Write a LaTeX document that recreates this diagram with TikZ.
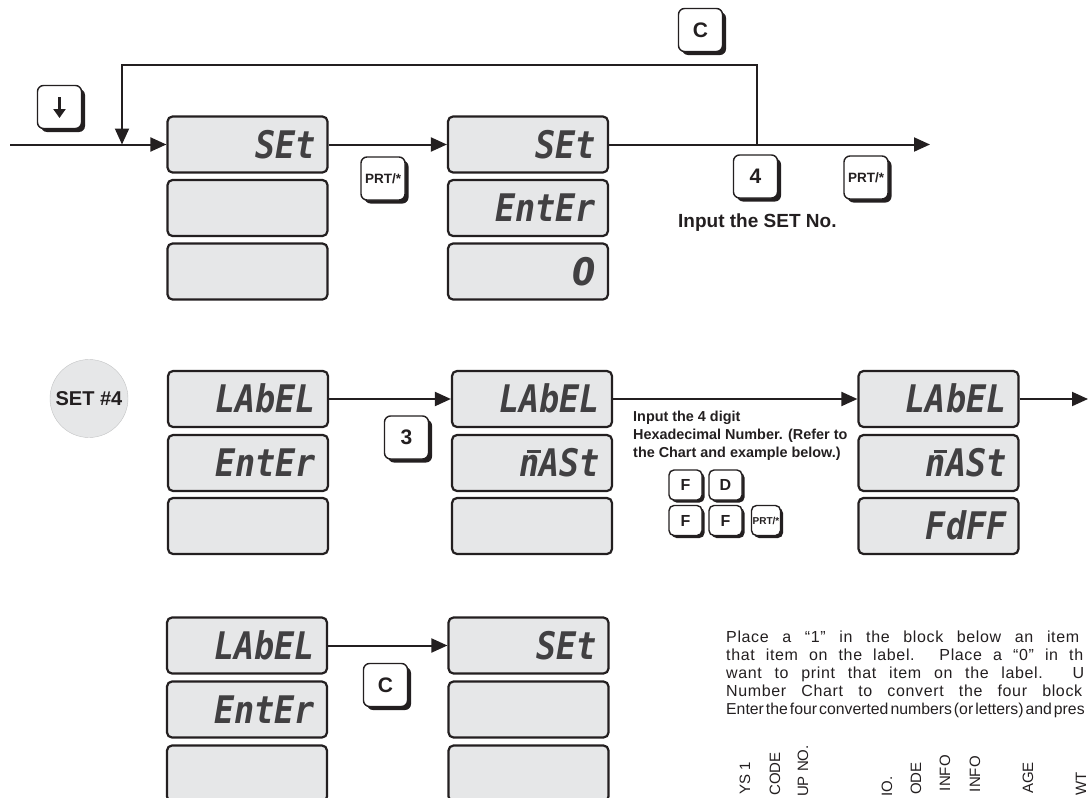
\documentclass[tikz,border=0pt]{standalone}
\usepackage{fontspec}
\setmainfont{Liberation Sans}
\newfontfamily\segfont[FakeStretch=0.88]{DejaVu Sans Mono}
\newfontfamily\segzero[FakeStretch=0.88]{DejaVu Sans}
\newfontfamily\parafont[LetterSpace=4]{Liberation Sans}
\usetikzlibrary{arrows.meta,shadows}
\definecolor{ink}{HTML}{231F20}
\definecolor{lcd}{HTML}{E6E7E8}
\definecolor{seg}{HTML}{414042}
\newcommand{\lcdtxt}[1]{\makebox[136pt][r]{#1}}
\newcommand{\segm}{\rlap{\kern0.2em\rule[0.62em]{0.36em}{0.09em}}n}
\tikzset{
  disp/.style={draw=ink, fill=lcd, line width=2.2pt, rounded corners=5pt,
    minimum width=160pt, minimum height=56pt, inner sep=0pt, text=seg,
    font=\segfont\bfseries\itshape\fontsize{38}{38}\selectfont,
    text height=27pt, text depth=0pt},
  keybase/.style={draw=ink, fill=white, line width=1.4pt, rounded corners=6pt,
    inner sep=0pt, text=ink},
  key/.style={keybase, minimum width=44pt, minimum height=43pt,
    font=\bfseries\fontsize{21}{21}\selectfont,
    drop shadow={shadow xshift=3.5pt, shadow yshift=-3.5pt, fill=ink, opacity=1}},
  skey/.style={keybase, rounded corners=5pt, minimum width=33pt, minimum height=30pt,
    font=\bfseries\fontsize{16}{16}\selectfont,
    drop shadow={shadow xshift=2.5pt, shadow yshift=-2.5pt, fill=ink, opacity=1}},
  arr/.style={draw=ink, line width=2pt, -{Triangle[length=16pt,width=14pt]}},
  para/.style={inner sep=0pt, text=ink, anchor=base west,
    font=\parafont\fontsize{16}{18}\selectfont},
  vlab/.style={rotate=90, anchor=east, inner sep=0pt, text=ink,
    font=\fontsize{15}{15}\selectfont},
}
\begin{document}
\begin{tikzpicture}[x=1pt,y=-1pt]
\useasboundingbox (0,0) rectangle (1088,798);
\clip (0,0) rectangle (1088,798);

% ---------------- Row 1 ----------------
\node[disp] (d1a) at (247.5,144.5) {\lcdtxt{SEt}};
\node[disp] (d1b) at (247.5,208) {};
\node[disp] (d1c) at (247.5,271.5) {};
\node[disp] (d2a) at (528,144.5) {\lcdtxt{SEt}};
\node[disp] (d2b) at (528,208) {\lcdtxt{EntEr}};
\node[disp] (d2c) at (528,271.5) {\lcdtxt{{\segzero 0}}};

\coordinate (in1) at (10,144.5);
\coordinate (out1) at (930,144.5);
\coordinate (j1) at (757,144.5);
\coordinate (j2) at (122,144.5);
\draw[arr] (in1) -- (d1a.west);
\draw[arr] (d1a.east) -- (d2a.west);
\draw[arr] (d2a.east) -- (out1);
\draw[arr] (j1) -- ++(0,-80) -| (j2);

\node[key] (kdown) at (59.5,107) {};
\draw[ink, line width=2.6pt, -{Triangle[length=9pt,width=12pt]}]
  ([yshift=10pt]kdown.center) -- ([yshift=-11pt]kdown.center);
\node[key] (kc1) at (700.5,30) {C};
\node[key, font=\bfseries\fontsize{13.5}{13.5}\selectfont] (kprt1) at (383,178.5) {PRT/*};
\node[key] (k4) at (755.5,176.5) {4};
\node[key, font=\bfseries\fontsize{13.5}{13.5}\selectfont] (kprt2) at (866,177.5) {PRT/*};
\node[anchor=west, inner sep=0pt, text=ink, font=\bfseries\fontsize{19}{19}\selectfont]
  (t1) at (678,223) {Input the SET No.};

% ---------------- Row 2 ----------------
\node[circle, fill=lcd, draw=lcd!85!black, line width=0.4pt, minimum size=78pt,
  inner sep=0pt, text=ink, font=\bfseries\fontsize{20}{20}\selectfont]
  (set4) at (89,398.5) {SET \#4};

\node[disp] (d3a) at (248,399) {\lcdtxt{LAbEL}};
\node[disp] (d3b) at (248,463) {\lcdtxt{EntEr}};
\node[disp] (d3c) at (248,526) {};
\node[disp] (d4a) at (532,399) {\lcdtxt{LAbEL}};
\node[disp] (d4b) at (532,463) {\lcdtxt{\segm ASt}};
\node[disp] (d4c) at (532,526) {};
\node[disp] (d5a) at (938.5,399) {\lcdtxt{LAbEL}};
\node[disp] (d5b) at (938.5,463) {\lcdtxt{\segm ASt}};
\node[disp] (d5c) at (938.5,526) {\lcdtxt{FdFF}};

\coordinate (out2) at (1088,399);
\draw[arr] (d3a.east) -- (d4a.west);
\draw[arr] (d4a.east) -- (d5a.west);
\draw[arr] (d5a.east) -- (out2);

\node[key] (k3) at (406.5,437.5) {3};
\node[anchor=north west, align=left, inner sep=0pt, text=ink,
  font=\bfseries\fontsize{14.4}{18}\selectfont] (t2) at (633,410.5)
  {Input the 4 digit\\Hexadecimal Number. (Refer to\\the Chart and example below.)};
\node[skey] (kf1) at (685.5,485) {F};
\node[skey] (kd) at (725.5,485) {D};
\node[skey] (kf2) at (685.5,520.5) {F};
\node[skey] (kf3) at (725.5,520.5) {F};
\node[skey, minimum width=29pt, font=\bfseries\fontsize{10}{10}\selectfont] (kprt3) at (766,520.5) {PRT/*};

% ---------------- Row 3 ----------------
\node[disp] (d6a) at (247,645.5) {\lcdtxt{LAbEL}};
\node[disp] (d6b) at (247,709.5) {\lcdtxt{EntEr}};
\node[disp] (d6c) at (247,773.5) {};
\node[disp] (d7a) at (528.5,645.5) {\lcdtxt{SEt}};
\node[disp] (d7b) at (528.5,709.5) {};
\node[disp] (d7c) at (528.5,773.5) {};
\draw[arr] (d6a.east) -- (d7a.west);
\node[key] (kc2) at (385.5,685) {C};

% paragraph
\node[para] (p1) at (726,642) {\makebox[353pt][s]{Place a “1” in the block below an item}};
\node[para] (p2) at (726,660) {\makebox[357pt][s]{that item on the label. Place a “0” in th}};
\node[para] (p3) at (726,678) {\makebox[358pt][s]{want to print that item on the label. U}};
\node[para] (p4) at (726,696) {\makebox[356pt][s]{Number Chart to convert the four block}};
\node[inner sep=0pt, text=ink, anchor=base west, font=\fontsize{15.8}{18}\selectfont] (p5) at (726,714)
  {\spaceskip=2pt plus 1pt Enter the four converted numbers (or letters) and pres};

% vertical column labels
\node[vlab] (v1) at (745,762) {YS 1};
\node[vlab] (v2) at (775,752) {CODE};
\node[vlab] (v3) at (803,745) {UP NO.};
\node[vlab] (v4) at (887,776) {IO.};
\node[vlab] (v5) at (916,762) {ODE};
\node[vlab] (v6) at (945,755) {INFO};
\node[vlab] (v7) at (975,756) {INFO};
\node[vlab] (v8) at (1028,762) {AGE};
\node[vlab] (v9) at (1081,772) {WT};
\end{tikzpicture}
\end{document}
